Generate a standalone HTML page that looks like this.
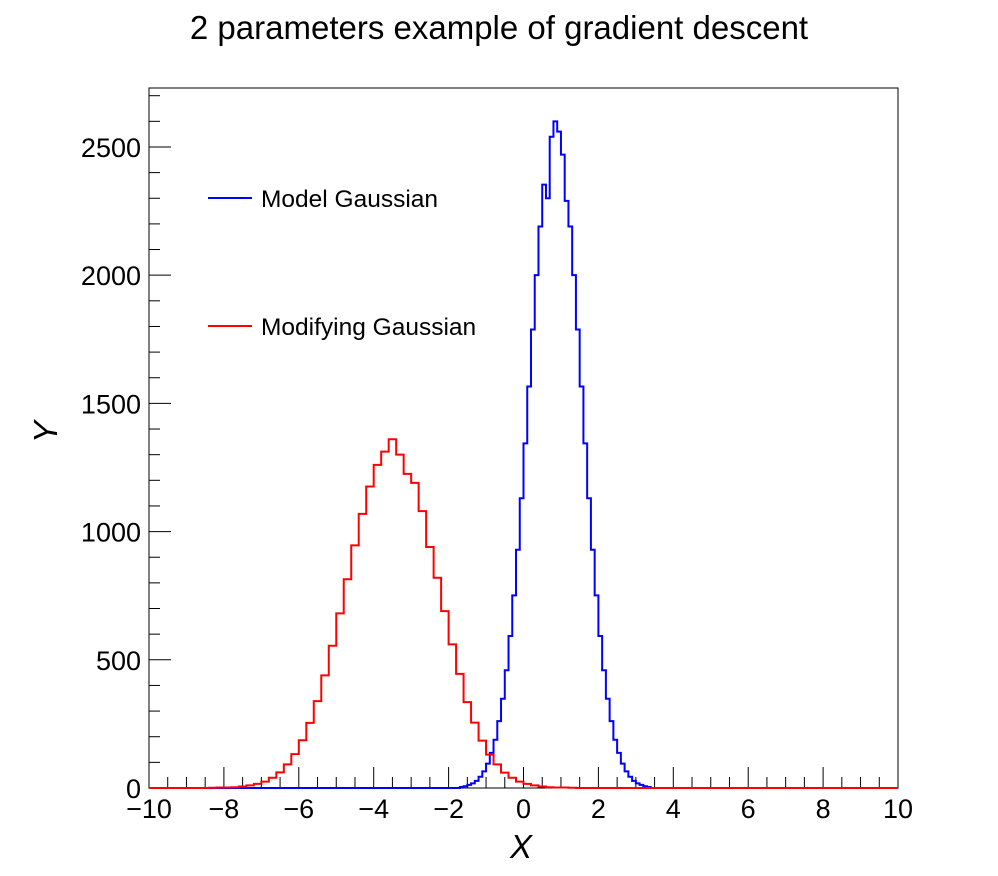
<!DOCTYPE html>
<html><head><meta charset="utf-8"><style>
html,body{margin:0;padding:0;background:#fff;}
svg{display:block;font-family:"Liberation Sans",sans-serif;}
</style></head><body>
<svg id="chart" width="998" height="876" xmlns="http://www.w3.org/2000/svg">
<rect x="0" y="0" width="998" height="876" fill="#fff"/>
<text x="499" y="39" text-anchor="middle" font-size="33">2 parameters example of gradient descent</text>
<g id="plot"></g>
<text x="521" y="858" text-anchor="middle" font-size="33" font-style="italic">X</text>
<text transform="translate(57,432) rotate(-90)" text-anchor="middle" font-size="33" font-style="italic">Y</text>
<g>
<g><line x1="208" y1="198" x2="252" y2="198" stroke="#00f" stroke-width="2"/><text x="261" y="207" font-size="24.5">Model Gaussian</text></g>
<g><line x1="208" y1="326" x2="252" y2="326" stroke="#f00" stroke-width="2"/><text x="261" y="335" font-size="24.5">Modifying Gaussian</text></g>
</g>
</svg>
<script>
const xTicks=[-10,-8,-6,-4,-2,0,2,4,6,8,10];
const xTickLabels=["\u221210","\u22128","\u22126","\u22124","\u22122","0","2","4","6","8","10"];
const yTicks=[0,500,1000,1500,2000,2500];
const yTickLabels=["0","500","1000","1500","2000","2500"];
const blueStart=-1.7, blueWidth=0.1;
const blueValues=[4,7,12,18,28,44,65,95,137,188,261,348,459,593,751,929,1130,1344,1566,1788,2000,2190,2353,2300,2540,2600,2560,2470,2290,2190,2000,1788,1566,1344,1130,929,751,593,459,348,261,188,137,95,65,44,28,18,12,7,4];
const redStart=-8.4, redWidth=0.2;
const redValues=[1,2,2,3,6,10,16,25,40,61,92,132,186,254,339,439,555,681,814,946,1069,1176,1260,1312,1360,1300,1225,1190,1080,940,820,690,560,445,335,255,185,130,92,60,40,25,16,10,6,3,2,2,1];
const X0=149,X1=898,Y0=788,Y1=88,xmin=-10,xmax=10,ymax=2730;
const sx=v=>X0+(v-xmin)/(xmax-xmin)*(X1-X0);
const sy=v=>Y0-v/ymax*(Y0-Y1);
const NS="http://www.w3.org/2000/svg";
const g=document.getElementById('plot');
function mk(t,a){const e=document.createElementNS(NS,t);for(const k in a)e.setAttribute(k,a[k]);g.appendChild(e);return e;}
const fr=mk('rect',{x:X0,y:Y1,width:X1-X0,height:Y0-Y1,fill:'none',stroke:'#000','stroke-width':1});


for(let v=xmin;v<=xmax+1e-9;v+=0.5){
  const major=Math.abs(v/2-Math.round(v/2))<1e-9;
  const t=mk('line',{x1:sx(v),x2:sx(v),y1:Y0,y2:Y0-(major?21:11),stroke:'#000','stroke-width':1});
  
  
}
for(let v=0;v<=2700+1e-9;v+=100){
  const major=v%500===0;
  const t=mk('line',{x1:X0,x2:X0+(major?22:11),y1:sy(v),y2:sy(v),stroke:'#000','stroke-width':1});
  
  
}
xTicks.forEach((v,i)=>{
  const t=mk('text',{x:sx(v),y:818,'text-anchor':'middle','font-size':27});
  t.textContent=xTickLabels[i];
  
  
});
yTicks.forEach((v,i)=>{
  const t=mk('text',{x:141,y:sy(v)+10,'text-anchor':'end','font-size':27});
  t.textContent=yTickLabels[i];
  
  
});
function hist(start,w,vals,color,name){
  let d='M'+sx(xmin)+','+sy(0)+' L'+sx(start)+','+sy(0);
  vals.forEach((v,i)=>{const a=start+i*w,b=a+w;d+=' L'+sx(a)+','+sy(v)+' L'+sx(b)+','+sy(v);});
  const end=start+vals.length*w;
  d+=' L'+sx(end)+','+sy(0)+' L'+sx(xmax)+','+sy(0);
  const p=mk('path',{d:d,fill:'none',stroke:color,'stroke-width':2});
  
  
}
hist(blueStart,blueWidth,blueValues,'#00f','model-gaussian-histogram');
hist(redStart,redWidth,redValues,'#f00','modifying-gaussian-histogram');
</script>
</body></html>
